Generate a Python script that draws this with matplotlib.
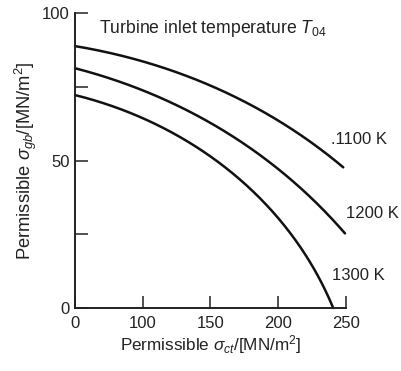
import numpy as np
import matplotlib
matplotlib.use("Agg")
import matplotlib.pyplot as plt

plt.rcParams['font.family'] = ['Liberation Sans', 'DejaVu Sans']
plt.rcParams['mathtext.fontset'] = 'custom'
plt.rcParams['mathtext.rm'] = 'Liberation Sans'
plt.rcParams['mathtext.it'] = 'Liberation Sans:italic'

# Tick values (non-linear axis: equal spacing between these values)
x_ticks = [0, 100, 150, 200, 250]
y_ticks_major = [0, 50, 100]
y_ticks_minor = [25, 75]

# Curves: permissible sigma_ct (x) vs permissible sigma_gb (y)
x_1100 = [0, 91, 146, 179, 199, 223.5, 248]
y_1100 = [88.8, 83.7, 76.3, 69.9, 63.7, 55.3, 47.7]

x_1200 = [0, 91, 146, 167, 191.5, 216, 231, 249.3]
y_1200 = [81.3, 73.3, 65.1, 58.1, 50.2, 40.6, 33.2, 25.3]

x_1300 = [0, 91, 146, 167, 191.5, 211, 226, 234.5, 240.6]
y_1300 = [72.2, 64.3, 53.0, 46.5, 34.3, 24.2, 12.9, 5.0, 0.0]

labels = ['.1100 K', '1200 K', '1300 K']
title_text = r'Turbine inlet temperature $T_{04}$'
xlabel = r'Permissible $\sigma_{ct}$/[MN/m$^2$]'
ylabel = r'Permissible $\sigma_{gb}$/[MN/m$^2$]'

pos = np.arange(len(x_ticks), dtype=float)
fwd = lambda v: np.interp(v, x_ticks, pos)
inv = lambda p: np.interp(p, pos, x_ticks)


def smooth_param(u, y, deg=3, n=300):
    """Least-squares parametric polynomial smoothing in (axis position, value) space."""
    u = np.asarray(u, float); y = np.asarray(y, float)
    du = np.diff(u) * 67.75
    dy = np.diff(y) * 2.95
    t = np.concatenate([[0], np.cumsum(np.hypot(du, dy))])
    t = t / t[-1]
    w = np.ones_like(t); w[0] = w[-1] = 10.0
    cu = np.polyfit(t, u, deg, w=w)
    cy = np.polyfit(t, y, deg, w=w)
    tt = np.linspace(0, 1, n)
    return np.polyval(cu, tt), np.polyval(cy, tt)


fig = plt.figure(figsize=(4.02, 3.71), dpi=100)
ax = fig.add_axes([0.1866, 0.1698, 0.674, 0.795])
ax.set_xscale('function', functions=(fwd, inv))

for xs, ys in [(x_1100, y_1100), (x_1200, y_1200), (x_1300, y_1300)]:
    sp, sy = smooth_param(fwd(np.array(xs, float)), ys)
    ax.plot(inv(np.clip(sp, 0, 4)), sy, color='#111111', lw=1.8,
            solid_capstyle='round', clip_on=False)

ax.set_xlim(0, 250)
ax.set_ylim(0, 100)
ax.set_xticks(x_ticks)
ax.set_xticklabels([str(v) for v in x_ticks])
ax.set_yticks(y_ticks_major + y_ticks_minor)
ax.set_yticklabels([str(v) for v in y_ticks_major] + ['', ''])

for s in ['top', 'right']:
    ax.spines[s].set_visible(False)
for s in ['left', 'bottom']:
    ax.spines[s].set_linewidth(1.4)
    ax.spines[s].set_color('#222222')

ax.tick_params(axis='both', direction='in', length=9, width=1.1, colors='#222222',
               labelsize=12, labelcolor='#222222')
ax.tick_params(axis='x', pad=6)
ax.tick_params(axis='y', pad=4)

ax.text(0.09, 0.948, title_text, transform=ax.transAxes, fontsize=12.7,
        color='#222222', va='center', ha='left')

ax.set_xlabel(xlabel, fontsize=12.3, color='#222222', labelpad=1)
ax.set_ylabel(ylabel, fontsize=13.2, color='#222222', labelpad=2)

lab_pos = [(inv(3.78), 57.0), (inv(4.04), 32.0), (inv(3.80), 11.0)]
for (lx, ly), t in zip(lab_pos, labels):
    ax.text(lx, ly, t, fontsize=12, color='#222222', va='center', ha='left', clip_on=False)

fig.savefig('out.png', dpi=100)
